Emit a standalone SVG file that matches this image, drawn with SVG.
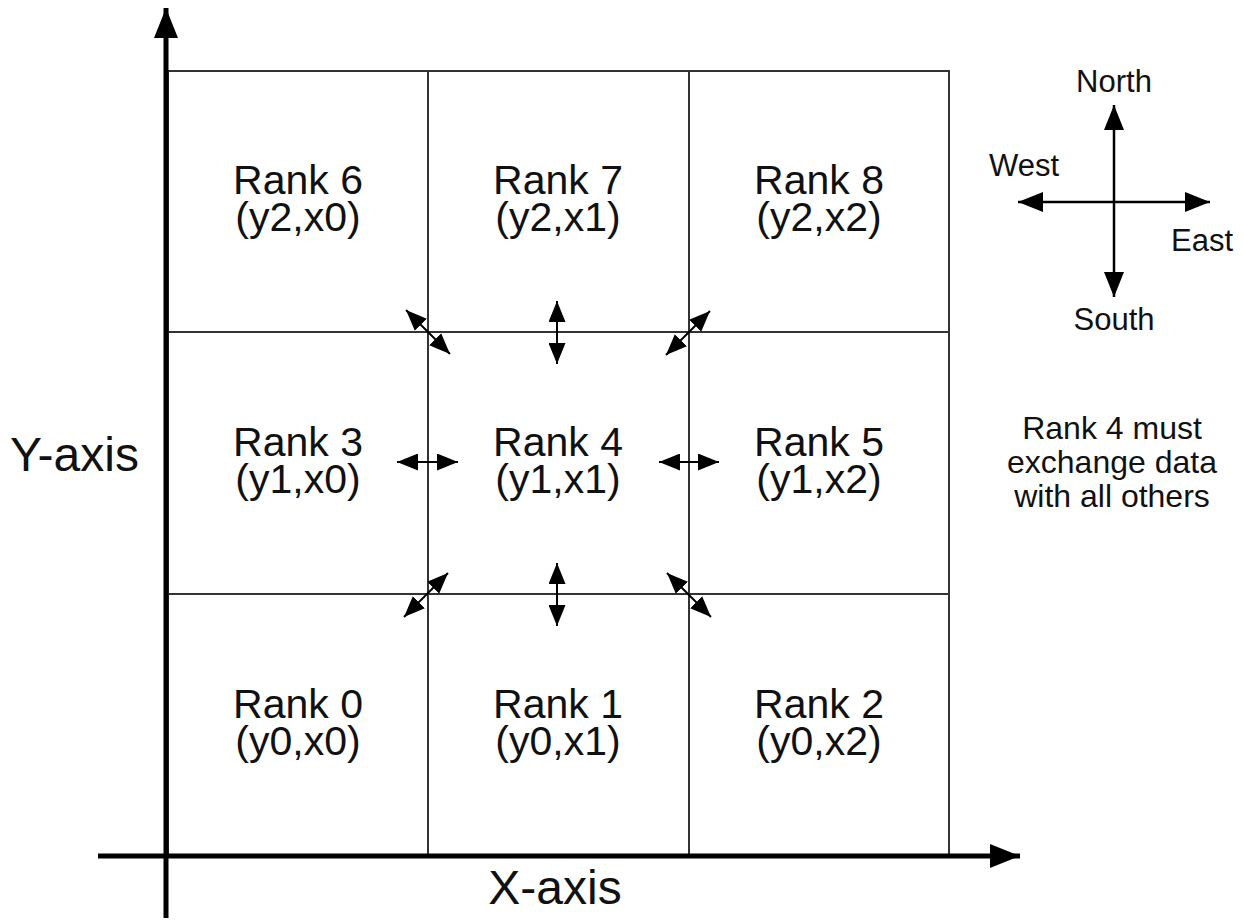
<svg xmlns="http://www.w3.org/2000/svg" width="1244" height="924" viewBox="0 0 1244 924">
  <style>
    text { font-family: "Liberation Sans", Arial, sans-serif; fill: #111; }
    .cell { font-size: 41px; text-anchor: middle; }
    .axis-label { font-size: 48px; }
    .compass-label { font-size: 31px; }
    .note { font-size: 32px; text-anchor: middle; }
    .grid { fill: none; stroke: #333; stroke-width: 2; }
    .axis { stroke: #000; stroke-width: 5; fill: none; }
    .xchg { stroke: #000; stroke-width: 2; fill: none; }
    .compass { stroke: #000; stroke-width: 2.5; fill: none; }
  </style>
  <defs>
    <marker id="headSmall" markerUnits="userSpaceOnUse" markerWidth="21" markerHeight="17" refX="21" refY="8.5" orient="auto-start-reverse">
      <path d="M0,0 L21,8.5 L0,17 z" fill="#000"/>
    </marker>
    <marker id="headCompass" markerUnits="userSpaceOnUse" markerWidth="25" markerHeight="20" refX="25" refY="10" orient="auto-start-reverse">
      <path d="M0,0 L25,10 L0,20 z" fill="#000"/>
    </marker>
    <marker id="headAxis" markerUnits="userSpaceOnUse" markerWidth="30" markerHeight="24" refX="30" refY="12" orient="auto">
      <path d="M0,0 L30,12 L0,24 z" fill="#000"/>
    </marker>
  </defs>

  <rect width="1244" height="924" fill="#fff"/>

  <!-- 3x3 process grid -->
  <g id="grid">
    <rect class="grid" x="168" y="71" width="781" height="785"/>
    <line class="grid" x1="428" y1="71" x2="428" y2="856"/>
    <line class="grid" x1="689" y1="71" x2="689" y2="856"/>
    <line class="grid" x1="168" y1="332" x2="949" y2="332"/>
    <line class="grid" x1="168" y1="594" x2="949" y2="594"/>
  </g>

  <!-- Axes -->
  <g id="axes">
    <line class="axis" x1="166" y1="918" x2="166" y2="8" marker-end="url(#headAxis)"/>
    <line class="axis" x1="98" y1="856" x2="1020" y2="856" marker-end="url(#headAxis)"/>
    <text class="axis-label" x="10" y="471">Y-axis</text>
    <text class="axis-label" x="555" y="904" text-anchor="middle">X-axis</text>
  </g>

  <!-- Rank cells -->
  <g id="rank6"><text class="cell" x="298" y="194">Rank 6</text><text class="cell" x="298" y="231">(y2,x0)</text></g>
  <g id="rank7"><text class="cell" x="558" y="194">Rank 7</text><text class="cell" x="558" y="231">(y2,x1)</text></g>
  <g id="rank8"><text class="cell" x="819" y="194">Rank 8</text><text class="cell" x="819" y="231">(y2,x2)</text></g>
  <g id="rank3"><text class="cell" x="298" y="456">Rank 3</text><text class="cell" x="298" y="493">(y1,x0)</text></g>
  <g id="rank4"><text class="cell" x="558" y="456">Rank 4</text><text class="cell" x="558" y="493">(y1,x1)</text></g>
  <g id="rank5"><text class="cell" x="819" y="456">Rank 5</text><text class="cell" x="819" y="493">(y1,x2)</text></g>
  <g id="rank0"><text class="cell" x="298" y="718">Rank 0</text><text class="cell" x="298" y="755">(y0,x0)</text></g>
  <g id="rank1"><text class="cell" x="558" y="718">Rank 1</text><text class="cell" x="558" y="755">(y0,x1)</text></g>
  <g id="rank2"><text class="cell" x="819" y="718">Rank 2</text><text class="cell" x="819" y="755">(y0,x2)</text></g>

  <!-- Halo exchanges between rank 4 and its neighbours -->
  <g id="connectors">
    <line class="xchg" x1="406" y1="310" x2="450" y2="354" marker-start="url(#headSmall)" marker-end="url(#headSmall)"/>
    <line class="xchg" x1="557" y1="301" x2="557" y2="364" marker-start="url(#headSmall)" marker-end="url(#headSmall)"/>
    <line class="xchg" x1="710" y1="311" x2="666" y2="355" marker-start="url(#headSmall)" marker-end="url(#headSmall)"/>
    <line class="xchg" x1="397" y1="462" x2="458" y2="462" marker-start="url(#headSmall)" marker-end="url(#headSmall)"/>
    <line class="xchg" x1="659" y1="462" x2="719" y2="462" marker-start="url(#headSmall)" marker-end="url(#headSmall)"/>
    <line class="xchg" x1="448" y1="573" x2="404" y2="617" marker-start="url(#headSmall)" marker-end="url(#headSmall)"/>
    <line class="xchg" x1="557" y1="563" x2="557" y2="626" marker-start="url(#headSmall)" marker-end="url(#headSmall)"/>
    <line class="xchg" x1="667" y1="573" x2="711" y2="617" marker-start="url(#headSmall)" marker-end="url(#headSmall)"/>
  </g>

  <!-- Compass rose -->
  <g id="compass">
    <line class="compass" x1="1114" y1="297" x2="1114" y2="105" marker-start="url(#headCompass)" marker-end="url(#headCompass)"/>
    <line class="compass" x1="1018" y1="202" x2="1210" y2="202" marker-start="url(#headCompass)" marker-end="url(#headCompass)"/>
    <text class="compass-label" x="1114" y="92" text-anchor="middle">North</text>
    <text class="compass-label" x="989" y="176">West</text>
    <text class="compass-label" x="1171" y="251">East</text>
    <text class="compass-label" x="1114" y="330" text-anchor="middle">South</text>
  </g>

  <!-- Explanatory note -->
  <g id="note">
    <text class="note" x="1112" y="439">Rank 4 must</text>
    <text class="note" x="1112" y="473">exchange data</text>
    <text class="note" x="1112" y="507">with all others</text>
  </g>
</svg>
